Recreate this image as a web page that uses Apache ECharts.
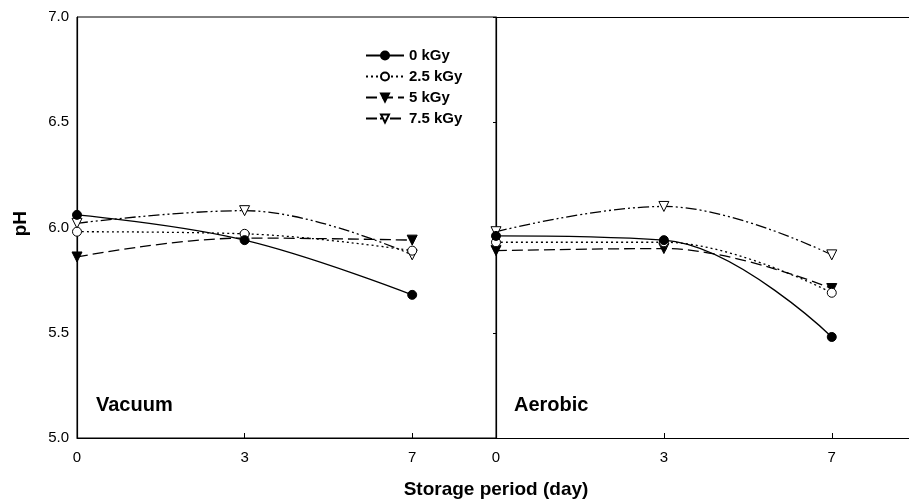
<!DOCTYPE html>
<html lang="en">
<head>
    <meta charset="UTF-8">
    <title>pH</title>
    <style>
        html, body { margin: 0; padding: 0; background: #fff; }
    </style>
</head>
<body>
    <div id="main" style="width: 909px;height:499px;"></div>
</body>
<script type="text/javascript" src="https://cdn.jsdelivr.net/npm/echarts@6/dist/echarts.min.js"></script>
<script type="text/javascript">
    // storage days (shown as tick labels, points are evenly spaced)
    var days = ['0', '3', '7'];
    var doseNames = ['0 kGy', '2.5 kGy', '5 kGy', '7.5 kGy'];
    var yTicks = [5.0, 5.5, 6.0, 6.5, 7.0];

    // Vacuum packaging
    var vac0 = [6.06, 5.94, 5.68];
    var vac25 = [5.98, 5.97, 5.89];
    var vac5 = [5.86, 5.95, 5.94];
    var vac75 = [6.02, 6.08, 5.87];

    // Aerobic packaging
    var aer0 = [5.96, 5.94, 5.48];
    var aer25 = [5.93, 5.93, 5.69];
    var aer5 = [5.89, 5.90, 5.71];
    var aer75 = [5.98, 6.10, 5.87];

    var font = '"Liberation Sans", Arial, sans-serif';
    var triDown = 'path://M0,0 L2,0 L1,1.75 Z';

    var styles = [
        { symbol: 'circle', size: 9, fill: '#000', dash: 'solid' },
        { symbol: 'circle', size: 9, fill: '#fff', dash: [2, 3] },
        { symbol: triDown, size: 10, fill: '#000', dash: [11, 5] },
        { symbol: triDown, size: 10, fill: '#fff', dash: [11, 3, 2, 3, 2, 3] }
    ];

    function toPairs(arr) {
        return arr.map(function (v, i) { return [i, v]; });
    }

    function makeSeries(name, arr, k, gi) {
        var s = styles[k];
        return {
            name: name,
            type: 'line',
            xAxisIndex: gi,
            yAxisIndex: gi,
            data: toPairs(arr),
            smooth: 0.4,
            symbol: s.symbol,
            symbolSize: s.size,
            showSymbol: true,
            lineStyle: { color: '#000', width: 1.3, type: s.dash },
            itemStyle: { color: s.fill, borderColor: '#000', borderWidth: 1 },
            z: 10 - k
        };
    }

    var vacSets = [vac0, vac25, vac5, vac75];
    var aerSets = [aer0, aer25, aer5, aer75];
    var series = [];
    for (var k = 0; k < 4; k++) {
        series.push(makeSeries(doseNames[k], vacSets[k], k, 0));
        series.push(makeSeries(doseNames[k], aerSets[k], k, 1));
    }

    function xAxisFor(gi, max) {
        return {
            type: 'value',
            gridIndex: gi,
            min: 0,
            max: max,
            interval: 1,
            axisLine: { lineStyle: { color: '#000', width: 1.2 } },
            axisTick: { inside: true, length: 5, lineStyle: { color: '#000' } },
            splitLine: { show: false },
            axisLabel: {
                color: '#000', fontSize: 15, fontFamily: font, margin: 12,
                showMaxLabel: false,
                formatter: function (v) {
                    return Number.isInteger(v) && days[v] !== undefined ? days[v] : '';
                }
            }
        };
    }

    function yAxisFor(gi) {
        return {
            type: 'value',
            gridIndex: gi,
            min: yTicks[0],
            max: yTicks[yTicks.length - 1],
            interval: 0.5,
            axisLine: { show: true, lineStyle: { color: '#000', width: 1.2 } },
            axisTick: { show: gi === 1, length: 3, lineStyle: { color: '#000' } },
            splitLine: { show: false },
            axisLabel: {
                show: gi === 0,
                color: '#000', fontSize: 15, fontFamily: font, margin: 8,
                formatter: function (v) { return v.toFixed(1); }
            }
        };
    }

    // top border of the right panel (runs off the right edge)
    var topLine = {
        type: 'value', gridIndex: 1, position: 'top', min: 0, max: 2.46,
        axisLine: { lineStyle: { color: '#000', width: 1 } },
        axisTick: { show: false }, axisLabel: { show: false }, splitLine: { show: false }
    };

    var chart = echarts.init(document.getElementById('main'));
    var option = {
        animation: false,
        backgroundColor: '#fff',
        grid: [
            { left: 77, top: 17, width: 419, bottom: 61, show: true, borderColor: '#000', borderWidth: 1 },
            { left: 496, top: 17, width: 413, bottom: 61 }
        ],
        xAxis: [xAxisFor(0, 2.5), xAxisFor(1, 2.46), topLine],
        yAxis: [yAxisFor(0), yAxisFor(1)],
        legend: {
            data: doseNames,
            orient: 'vertical',
            left: 360,
            top: 43,
            itemWidth: 38,
            itemHeight: 10,
            itemGap: 6,
            textStyle: { color: '#000', fontSize: 15, fontWeight: 'bold', fontFamily: font }
        },
        graphic: [
            { type: 'text', left: 96, top: 395, style: { text: 'Vacuum', fill: '#000', font: 'bold 20px ' + font } },
            { type: 'text', left: 514, top: 395, style: { text: 'Aerobic', fill: '#000', font: 'bold 20px ' + font } },
            { type: 'text', x: 496, y: 480, style: { text: 'Storage period (day)', fill: '#000', font: 'bold 19px ' + font, align: 'center', verticalAlign: 'top' } },
            { type: 'text', left: 11, top: 211, rotation: Math.PI / 2, style: { text: 'pH', fill: '#000', font: 'bold 19px ' + font } }
        ],
        series: series
    };
    chart.setOption(option);
</script>
</html>
